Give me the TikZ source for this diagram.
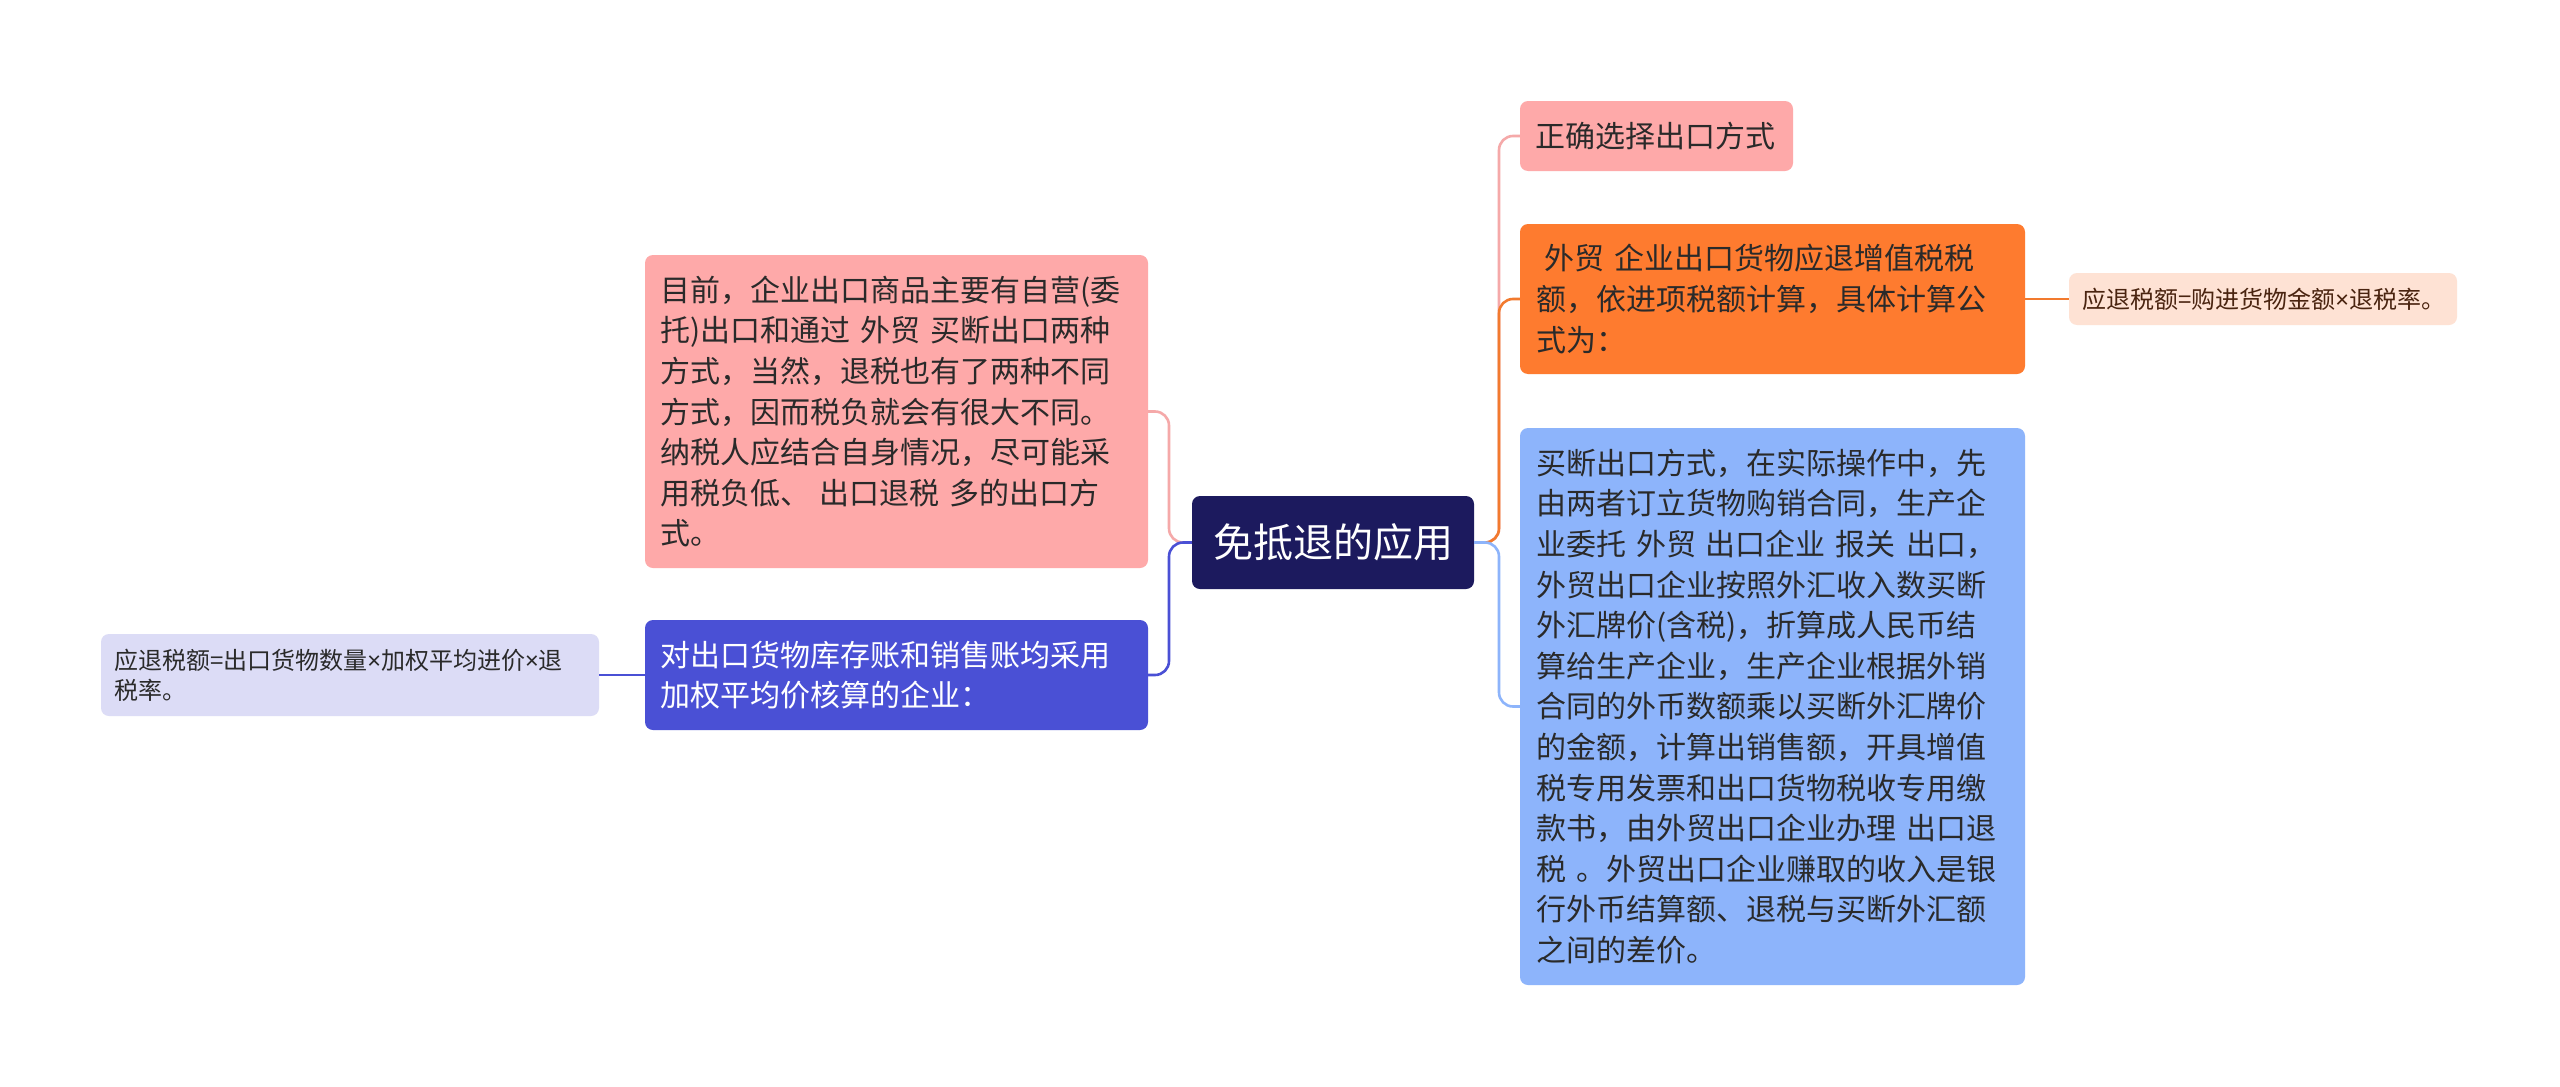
\documentclass[tikz,border=0pt]{standalone}
\usepackage{fontspec}
\setmainfont{Noto Sans CJK SC}
\newfontfamily\latinf{Noto Sans}
\newcommand{\tms}{{\latinf ×}}
\definecolor{rootfill}{HTML}{1C1A5E}
\definecolor{pinkfill}{HTML}{FEA9A9}
\definecolor{bluefill}{HTML}{4A50D5}
\definecolor{lavfill}{HTML}{DCDCF6}
\definecolor{orangefill}{HTML}{FE7B2F}
\definecolor{peachfill}{HTML}{FEE2D4}
\definecolor{lbluefill}{HTML}{8DB4FB}
\definecolor{cpink}{HTML}{F5A9A9}
\definecolor{corange}{HTML}{F27A2E}
\definecolor{cblue}{HTML}{4A50D5}
\definecolor{clblue}{HTML}{8DB4FB}
\definecolor{darktext}{HTML}{2A2A2A}
\definecolor{browntext}{HTML}{4A2410}
\begin{document}
\begin{tikzpicture}[x=1pt,y=-1pt,
  box/.style={rounded corners=8pt, inner sep=0pt, align=left, text=darktext},
  big/.style={font=\fontsize{30}{40.6}\selectfont},
  small/.style={font=\fontsize{24}{30}\selectfont},
  conn/.style={line width=2.6pt, rounded corners=14pt}]
\useasboundingbox[fill=white] (0,0) rectangle (2560,1087);

% root
\node[box, fill=rootfill, text=white, align=center, font=\fontsize{40}{48}\selectfont,
  minimum width=282pt, minimum height=93pt] (root) at (1333,542.5) {免抵退的应用};

% left side
\node[box, big, fill=pinkfill, text width=473pt, minimum width=503pt, minimum height=313pt]
  (lp) at (896.5,411.5) {目前，企业出口商品主要有自营(委\\托)出口和通过 外贸 买断出口两种\\方式，当然，退税也有了两种不同\\方式，因而税负就会有很大不同。\\纳税人应结合自身情况，尽可能采\\用税负低、 出口退税 多的出口方\\式。};
\node[box, big, fill=bluefill, text=white, text width=473pt, minimum width=503pt, minimum height=110pt]
  (lb) at (896.5,675) {对出口货物库存账和销售账均采用\\加权平均价核算的企业：};
\node[box, small, fill=lavfill, text width=472pt, minimum width=498pt, minimum height=82pt]
  (ll) at (350,675) {应退税额=出口货物数量\tms 加权平均进价\tms 退\\税率。};

% right side
\node[box, big, fill=pinkfill, text width=243pt, minimum width=273pt, minimum height=70pt]
  (rp) at (1656.5,136) {正确选择出口方式};
\node[box, big, fill=orangefill, text width=473pt, minimum width=505pt, minimum height=150pt]
  (ro) at (1772.5,299) {\hspace*{8pt}外贸 企业出口货物应退增值税税\\额，依进项税额计算，具体计算公\\式为：};
\node[box, small, fill=peachfill, text=browntext, text width=362pt, minimum width=388pt, minimum height=52pt]
  (rl) at (2263,299) {应退税额=购进货物金额\tms 退税率。};
\node[box, big, fill=lbluefill, text width=473pt, minimum width=505pt, minimum height=557pt]
  (rb) at (1772.5,706.5) {买断出口方式，在实际操作中，先\\由两者订立货物购销合同，生产企\\业委托 外贸 出口企业 报关 出口，\\外贸出口企业按照外汇收入数买断\\外汇牌价(含税)，折算成人民币结\\算给生产企业，生产企业根据外销\\合同的外币数额乘以买断外汇牌价\\的金额，计算出销售额，开具增值\\税专用发票和出口货物税收专用缴\\款书，由外贸出口企业办理 出口退\\税 。外贸出口企业赚取的收入是银\\行外币结算额、退税与买断外汇额\\之间的差价。};

% junctions
\coordinate (rj) at (1499,542.5);
\coordinate (lj) at (1169,542.5);

% connectors right
\draw[conn, cpink] (root.east) -- (rj) |- (rp.west);
\draw[conn, corange] (root.east) -- (rj) |- (ro.west);
\draw[conn, clblue] (root.east) -- (rj) |- (rb.west);
\draw[conn, corange] (ro.east) -- (rl.west);

% connectors left
\draw[conn, cpink] (root.west) -- (lj) |- (lp.east);
\draw[conn, cblue] (root.west) -- (lj) |- (lb.east);
\draw[conn, cblue] (lb.west) -- (ll.east);
\end{tikzpicture}
\end{document}
